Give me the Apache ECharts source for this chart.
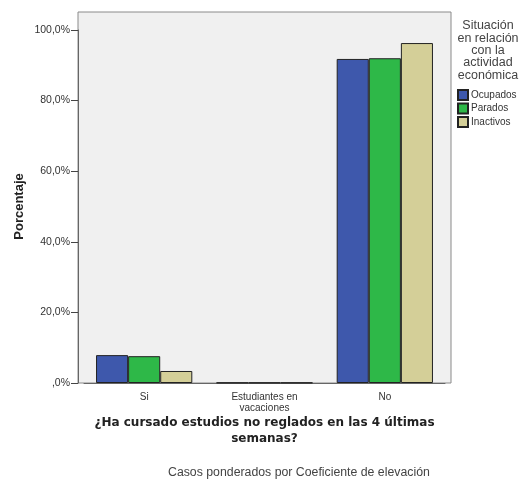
<!DOCTYPE html>
<html><head><meta charset="utf-8">
<script src="https://cdn.jsdelivr.net/npm/echarts@6/dist/echarts.min.js"></script>
<style>html,body{margin:0;padding:0;background:#fff}#c{width:522px;height:484px}</style>
</head><body><div id="c"></div>
<script>
var categories = ['Si', 'Estudiantes en\nvacaciones', 'No'];
var seriesNames = ['Ocupados', 'Parados', 'Inactivos'];
var ocupados = [7.9, 0.1, 91.8];
var parados = [7.6, 0.1, 92.0];
var inactivos = [3.4, 0.1, 96.3];
var colors = ['#3e58ac', '#2eb848', '#d4cf98'];
var yTicks = [0, 20, 40, 60, 80, 100];

var font = 'Arial, "Liberation Sans", sans-serif';
var chart = echarts.init(document.getElementById('c'), null, {renderer: 'canvas'});
var data = [ocupados, parados, inactivos];
chart.setOption({
  animation: false,
  textStyle: {fontFamily: font},
  grid: [
    {left: 78, right: 71, top: 12, bottom: 101, show: true, backgroundColor: '#f0f0f0', borderColor: '#8a8a8a', borderWidth: 1},
    {left: 84, right: 77, top: 30, bottom: 101}
  ],
  xAxis: [
    {gridIndex: 0, type: 'value', show: false},
    {gridIndex: 1, type: 'category', data: categories,
     axisLine: {lineStyle: {color: '#666', width: 1}},
     axisTick: {alignWithLabel: true, length: 5, lineStyle: {color: '#444'}},
     axisLabel: {color: '#333', fontSize: 10, lineHeight: 11, margin: 9, interval: 0},
     name: '¿Ha cursado estudios no reglados en las 4 últimas\nsemanas?',
     nameLocation: 'middle', nameGap: 32, nameMoveOverlap: false,
     nameTextStyle: {fontSize: 12, fontWeight: 'bold', color: '#222', lineHeight: 16, fontFamily: '"DejaVu Sans", Verdana, sans-serif'}}
  ],
  yAxis: [
    {gridIndex: 0, type: 'value', show: false},
    {gridIndex: 1, type: 'value', min: 0, max: 100, interval: 20, offset: 6,
     axisLine: {show: true, lineStyle: {color: '#666'}},
     axisTick: {show: true, length: 7, lineStyle: {color: '#444'}},
     splitLine: {show: false},
     axisLabel: {color: '#333', fontSize: 10.5, margin: 8,
       formatter: function (v) { return v === 0 ? ',0%' : v.toFixed(1).replace('.', ',') + '%'; }},
     name: 'Porcentaje', nameLocation: 'middle', nameGap: 52, nameMoveOverlap: false,
     nameTextStyle: {fontSize: 13, fontWeight: 'bold', color: '#222'}}
  ],
  legend: {
    orient: 'vertical', left: 457, top: 89, padding: 0, itemWidth: 10, itemHeight: 10, itemGap: 1.5,
    icon: 'rect',
    textStyle: {fontSize: 10, color: '#333', padding: [0, 0, 0, -2]},
    data: seriesNames
  },
  graphic: [
    {type: 'text', x: 488, y: 19.5, style: {text: 'Situación\nen relación\ncon la\nactividad\neconómica', textAlign: 'center', fontSize: 12.5, lineHeight: 12.4, fill: '#444', fontFamily: font}},
    {type: 'text', x: 168, y: 467, style: {text: 'Casos ponderados por Coeficiente de elevación', fontSize: 12.3, fill: '#444', fontFamily: font}}
  ],
  series: seriesNames.map(function (n, i) {
    return {
      name: n, type: 'bar', xAxisIndex: 1, yAxisIndex: 1, data: data[i],
      barGap: '0%', barCategoryGap: '20%',
      itemStyle: {color: colors[i], borderColor: '#222', borderWidth: 1}
    };
  })
});
</script></body></html>
